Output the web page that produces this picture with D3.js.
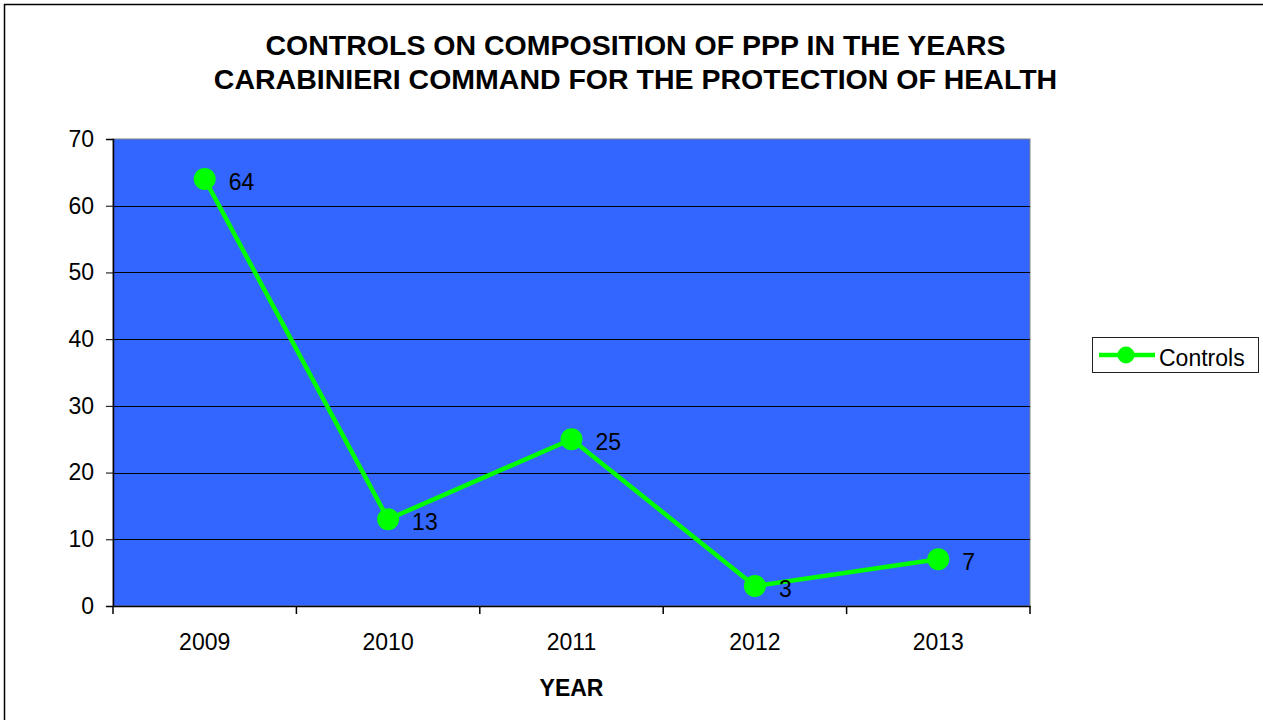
<!DOCTYPE html>
<html><head><meta charset="utf-8">
<script src="https://cdn.jsdelivr.net/npm/d3@7"></script>
<style>body{margin:0;background:#fff;}svg{display:block;font-family:"Liberation Sans",Arial,sans-serif;}</style>
</head><body>
<script>
const categories = ["2009","2010","2011","2012","2013"];
const seriesName = "Controls";
const values = [64, 13, 25, 3, 7];
const yTicks = [0,10,20,30,40,50,60,70];
const titleLines = ["CONTROLS ON COMPOSITION OF PPP IN THE YEARS","CARABINIERI COMMAND FOR THE PROTECTION OF HEALTH"];
const xTitle = "YEAR";

const W = 1263, H = 720;
const m = {left:113, right:1030, top:139, bottom:606};
const FS = 23;
const svg = d3.select("body").append("svg").attr("width",W).attr("height",H);

svg.append("rect").attr("x",4.5).attr("y",4.5).attr("width",W+20).attr("height",H+20)
  .attr("fill","#fff").attr("stroke","#000").attr("stroke-width",1.5);

const x = d3.scaleBand().domain(categories).range([m.left,m.right]).padding(0);
const y = d3.scaleLinear().domain([0,70]).range([m.bottom,m.top]);

svg.append("rect").attr("x",m.left).attr("y",m.top).attr("width",m.right-m.left).attr("height",m.bottom-m.top)
  .attr("fill","#3366FF").attr("stroke","#808080").attr("stroke-width",1);

// gridlines
svg.append("g").selectAll("line").data(yTicks.filter(d=>d>0 && d<70)).join("line")
  .attr("x1",m.left).attr("x2",m.right).attr("y1",d=>Math.round(y(d))+0.5).attr("y2",d=>Math.round(y(d))+0.5)
  .attr("stroke","#000").attr("stroke-width",1);

// y axis
const yAxis = svg.append("g").attr("transform",`translate(${m.left},0)`)
  .call(d3.axisLeft(y).tickValues(yTicks).tickSize(7).tickPadding(12).tickFormat(d3.format("d")));
yAxis.select(".domain").attr("stroke","#000").attr("stroke-width",1.5);
yAxis.selectAll(".tick line").attr("stroke","#000");
yAxis.selectAll("text").attr("font-size",FS).attr("fill","#000").attr("font-family","Liberation Sans, Arial, sans-serif");

// x axis
const xAxis = svg.append("g").attr("transform",`translate(0,${m.bottom})`)
  .call(d3.axisBottom(x).tickSize(0).tickPadding(28));
xAxis.select(".domain").attr("stroke","#000").attr("stroke-width",1.5);
xAxis.selectAll("text").attr("font-size",FS).attr("fill","#000").attr("font-family","Liberation Sans, Arial, sans-serif");
const bounds = categories.map(c=>x(c)).concat([x(categories[categories.length-1])+x.bandwidth()]);
svg.append("g").selectAll("line").data(bounds).join("line")
  .attr("x1",d=>d).attr("x2",d=>d).attr("y1",m.bottom).attr("y2",m.bottom+8)
  .attr("stroke","#000").attr("stroke-width",1.5);

// line
const cx = c => x(c)+x.bandwidth()/2;
const pts = categories.map((c,i)=>({c, v:values[i]}));
svg.append("path").datum(pts)
  .attr("d",d3.line().x(d=>cx(d.c)).y(d=>y(d.v)))
  .attr("fill","none").attr("stroke","#00FF00").attr("stroke-width",4.5).attr("stroke-linejoin","round");
svg.append("g").selectAll("circle").data(pts).join("circle")
  .attr("cx",d=>cx(d.c)).attr("cy",d=>y(d.v)).attr("r",11).attr("fill","#00FF00");
svg.append("g").selectAll("text").data(pts).join("text")
  .attr("x",d=>cx(d.c)+24).attr("y",d=>y(d.v)+11)
  .attr("font-size",FS).attr("fill","#000").text(d=>d.v);

// title
svg.append("g").selectAll("text").data(titleLines).join("text")
  .attr("x",(m.left+m.right)/2+64).attr("y",(d,i)=>55+i*34)
  .attr("text-anchor","middle").attr("font-weight","bold").attr("font-size",28.5).attr("fill","#000").text(d=>d);

svg.append("text").attr("x",(m.left+m.right)/2).attr("y",696)
  .attr("text-anchor","middle").attr("font-weight","bold").attr("font-size",FS).text(xTitle);

// legend
const lg = svg.append("g");
lg.append("rect").attr("x",1092.5).attr("y",337.5).attr("width",166).attr("height",35)
  .attr("fill","#fff").attr("stroke","#222").attr("stroke-width",1);
lg.append("line").attr("x1",1099).attr("x2",1155).attr("y1",355).attr("y2",355)
  .attr("stroke","#00FF00").attr("stroke-width",4.5);
lg.append("circle").attr("cx",1126).attr("cy",355).attr("r",8.5).attr("fill","#00FF00");
lg.append("text").attr("x",1159).attr("y",366).attr("font-size",FS).attr("fill","#000").text(seriesName);
</script>
</body></html>
